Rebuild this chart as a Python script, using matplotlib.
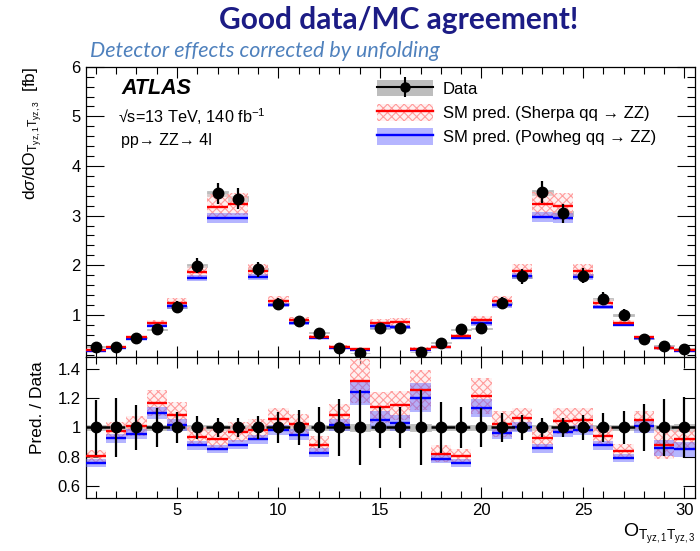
import numpy as np
import matplotlib
matplotlib.use("Agg")
import matplotlib.pyplot as plt
from matplotlib.patches import Patch
from matplotlib.lines import Line2D
from matplotlib.ticker import MultipleLocator, FuncFormatter

plt.rcParams['font.family'] = ['Liberation Sans', 'DejaVu Sans']
plt.rcParams['mathtext.fontset'] = 'custom'
plt.rcParams['mathtext.rm'] = 'Liberation Sans'
plt.rcParams['mathtext.it'] = 'Liberation Sans:italic'
plt.rcParams['mathtext.bf'] = 'Liberation Sans:bold'
plt.rcParams['hatch.linewidth'] = 0.8

# bins of O_{Tyz,1 Tyz,3}
bins = np.arange(1, 31)

# unfolded data [fb], total error and relative systematic band
data = [0.36, 0.35, 0.54, 0.71, 1.15, 1.99, 3.45, 3.34, 1.92, 1.22,
        0.87, 0.64, 0.33, 0.23, 0.73, 0.74, 0.25, 0.44, 0.71, 0.73,
        1.24, 1.78, 3.47, 3.05, 1.79, 1.32, 1.00, 0.52, 0.38, 0.32]
data_err = [0.068, 0.070, 0.081, 0.092, 0.121, 0.155, 0.217, 0.210, 0.150, 0.128,
            0.103, 0.091, 0.065, 0.059, 0.100, 0.101, 0.064, 0.077, 0.097, 0.095,
            0.124, 0.151, 0.219, 0.192, 0.152, 0.132, 0.114, 0.083, 0.074, 0.066]
data_sys = [0.020, 0.020, 0.018, 0.018, 0.017, 0.016, 0.016, 0.016, 0.016, 0.017,
            0.018, 0.018, 0.020, 0.022, 0.018, 0.018, 0.022, 0.020, 0.018, 0.018,
            0.017, 0.016, 0.016, 0.016, 0.016, 0.017, 0.018, 0.019, 0.020, 0.021]

# Sherpa qq -> ZZ prediction [fb] and relative uncertainty
sherpa = [0.290, 0.342, 0.545, 0.829, 1.247, 1.863, 3.181, 3.233, 1.893, 1.287,
          0.890, 0.563, 0.357, 0.303, 0.830, 0.852, 0.314, 0.361, 0.574, 0.886,
          1.269, 1.892, 3.224, 3.187, 1.883, 1.242, 0.840, 0.546, 0.336, 0.296]
sherpa_unc = [0.05, 0.06, 0.065, 0.077, 0.08, 0.07, 0.08, 0.07, 0.07, 0.075,
              0.07, 0.07, 0.07, 0.115, 0.095, 0.087, 0.11, 0.07, 0.06, 0.10,
              0.085, 0.066, 0.08, 0.085, 0.077, 0.065, 0.06, 0.06, 0.11, 0.08]

# Powheg qq -> ZZ prediction [fb] and relative uncertainty
powheg = [0.273, 0.324, 0.515, 0.781, 1.173, 1.749, 2.946, 2.953, 1.766, 1.196,
          0.826, 0.531, 0.335, 0.285, 0.767, 0.763, 0.301, 0.347, 0.538, 0.826,
          1.194, 1.784, 2.974, 2.952, 1.754, 1.160, 0.795, 0.525, 0.327, 0.273]
powheg_unc = [0.032, 0.035, 0.035, 0.037, 0.04, 0.035, 0.035, 0.035, 0.035, 0.035,
              0.04, 0.04, 0.04, 0.068, 0.06, 0.055, 0.08, 0.04, 0.035, 0.055,
              0.04, 0.035, 0.035, 0.035, 0.035, 0.035, 0.035, 0.045, 0.06, 0.06]

data = np.array(data)
data_err = np.array(data_err)
data_sys = np.array(data_sys)
sherpa = np.array(sherpa)
sherpa_unc = np.array(sherpa_unc)
powheg = np.array(powheg)
powheg_unc = np.array(powheg_unc)

GREY = '#bdbdbd'
PINK_FACE = (1.0, 0.88, 0.88, 0.45)
PINK_HATCH = '#ff9c9c'
BLUE_BAND = (0.36, 0.36, 1.0, 0.45)


def draw_panel(a, d, dsys, s, sunc, p, punc):
    a.bar(bins, 2 * dsys, bottom=d - dsys, width=1.0, color=GREY,
          edgecolor=GREY, lw=0.6, zorder=1)
    a.bar(bins, 2 * sunc, bottom=s - sunc, width=1.0, facecolor=PINK_FACE,
          edgecolor=PINK_HATCH, hatch='xxxx', lw=0, zorder=2)
    a.bar(bins, 2 * punc, bottom=p - punc, width=1.0, color=BLUE_BAND,
          lw=0, zorder=3)
    a.hlines(p, bins - 0.5, bins + 0.5, color='#0000ff', lw=1.7, zorder=4)
    a.hlines(s, bins - 0.5, bins + 0.5, color='#ff0000', lw=1.7, zorder=5)


fig = plt.figure(figsize=(7, 5.51), dpi=100)
ax = fig.add_axes([0.1223, 0.3521, 0.870, 0.5267])
rax = fig.add_axes([0.1223, 0.0962, 0.870, 0.2559], sharex=ax)

# main panel
draw_panel(ax, data, data * data_sys, sherpa, sherpa * sherpa_unc,
           powheg, powheg * powheg_unc)
ax.errorbar(bins, data, yerr=data_err, fmt='o', color='k', ms=7.5,
            lw=1.6, capsize=0, zorder=6)

# ratio panel
s_ratio = sherpa / data
p_ratio = powheg / data
ones = data / data
draw_panel(rax, ones, data_sys, s_ratio, s_ratio * sherpa_unc,
           p_ratio, p_ratio * powheg_unc)
rax.axhline(1.0, color='k', ls=(0, (3.5, 2.5)), lw=1.8, zorder=5.5)
rax.errorbar(bins, ones, yerr=data_err / data, fmt='o', color='k', ms=7.5,
             lw=1.6, capsize=0, zorder=6)

ax.set_xlim(0.5, 30.5)
ax.set_ylim(0.15, 6)
rax.set_ylim(0.52, 1.48)

for a in (ax, rax):
    a.xaxis.set_major_locator(MultipleLocator(5))
    a.xaxis.set_minor_locator(MultipleLocator(1))
    a.tick_params(which='both', direction='in', top=True, right=True,
                  width=0.8, labelsize=12)
    a.tick_params(axis='x', which='major', length=8)
    a.tick_params(axis='x', which='minor', length=5)
    for sp in a.spines.values():
        sp.set_linewidth(0.9)

ax.yaxis.set_major_locator(MultipleLocator(1))
ax.yaxis.set_minor_locator(MultipleLocator(0.2))
ax.tick_params(axis='y', which='major', length=13)
ax.tick_params(axis='y', which='minor', length=6)
ax.tick_params(axis='x', labelbottom=False)

rax.yaxis.set_major_locator(MultipleLocator(0.2))
rax.yaxis.set_minor_locator(MultipleLocator(0.2))
rax.tick_params(axis='y', which='major', length=9)
rax.yaxis.set_major_formatter(FuncFormatter(lambda v, pos: '%g' % round(v, 2)))

# axis titles
fig.text(0.048, 0.879, r'd$\sigma$/dO$_{\mathrm{T_{yz,1}T_{yz,3}}}$  [fb]',
         rotation=90, ha='center', va='top', fontsize=12.5)
fig.text(0.054, 0.345, 'Pred. / Data', rotation=90, ha='center', va='top',
         fontsize=12.5)
fig.text(0.993, 0.025, r'O$_{\mathrm{T_{yz,1}T_{yz,3}}}$', ha='right',
         va='baseline', fontsize=14)

# labels inside the main panel
fig.text(0.173, 0.840, 'ATLAS', fontsize=15.5, fontweight='bold',
         style='italic', va='center')
fig.text(0.168, 0.789, '\u221as=13 TeV, 140 fb$^{-1}$', fontsize=11.7,
         va='center')
fig.text(0.173, 0.745, 'pp\u2192 ZZ\u2192 4l', fontsize=11.5, va='center')

handles = [
    (Patch(facecolor=GREY, edgecolor='none'),
     Line2D([], [], color='k', lw=1.5, marker='o', ms=6.5),
     Line2D([], [], color='k', lw=0, marker='|', ms=14, mew=1.5)),
    (Patch(facecolor=PINK_FACE, edgecolor=PINK_HATCH, hatch='xxxx', lw=0),
     Line2D([], [], color='#ff0000', lw=1.7)),
    (Patch(facecolor=BLUE_BAND, edgecolor='none'),
     Line2D([], [], color='#0000ff', lw=1.7)),
]
labels = ['Data', 'SM pred. (Sherpa qq \u2192 ZZ)', 'SM pred. (Powheg qq \u2192 ZZ)']
fig.legend(handles, labels, loc='upper left', bbox_to_anchor=(0.5386, 0.855),
           frameon=False, fontsize=12, handlelength=3.36, handleheight=1.15,
           handletextpad=0.6, labelspacing=0.44, borderpad=0, borderaxespad=0)

# slide heading
fig.text(0.569, 0.963, 'Good data/MC agreement!', family=['Lato', 'DejaVu Sans'],
         fontweight='bold', fontsize=21.5, color='#1c1c85', ha='center', va='center')
fig.text(0.128, 0.908, 'Detector effects corrected by unfolding',
         family=['Lato', 'DejaVu Sans'], style='italic', fontsize=15.5,
         color='#4f81bd', ha='left', va='center')

fig.savefig('out.png', dpi=100)
